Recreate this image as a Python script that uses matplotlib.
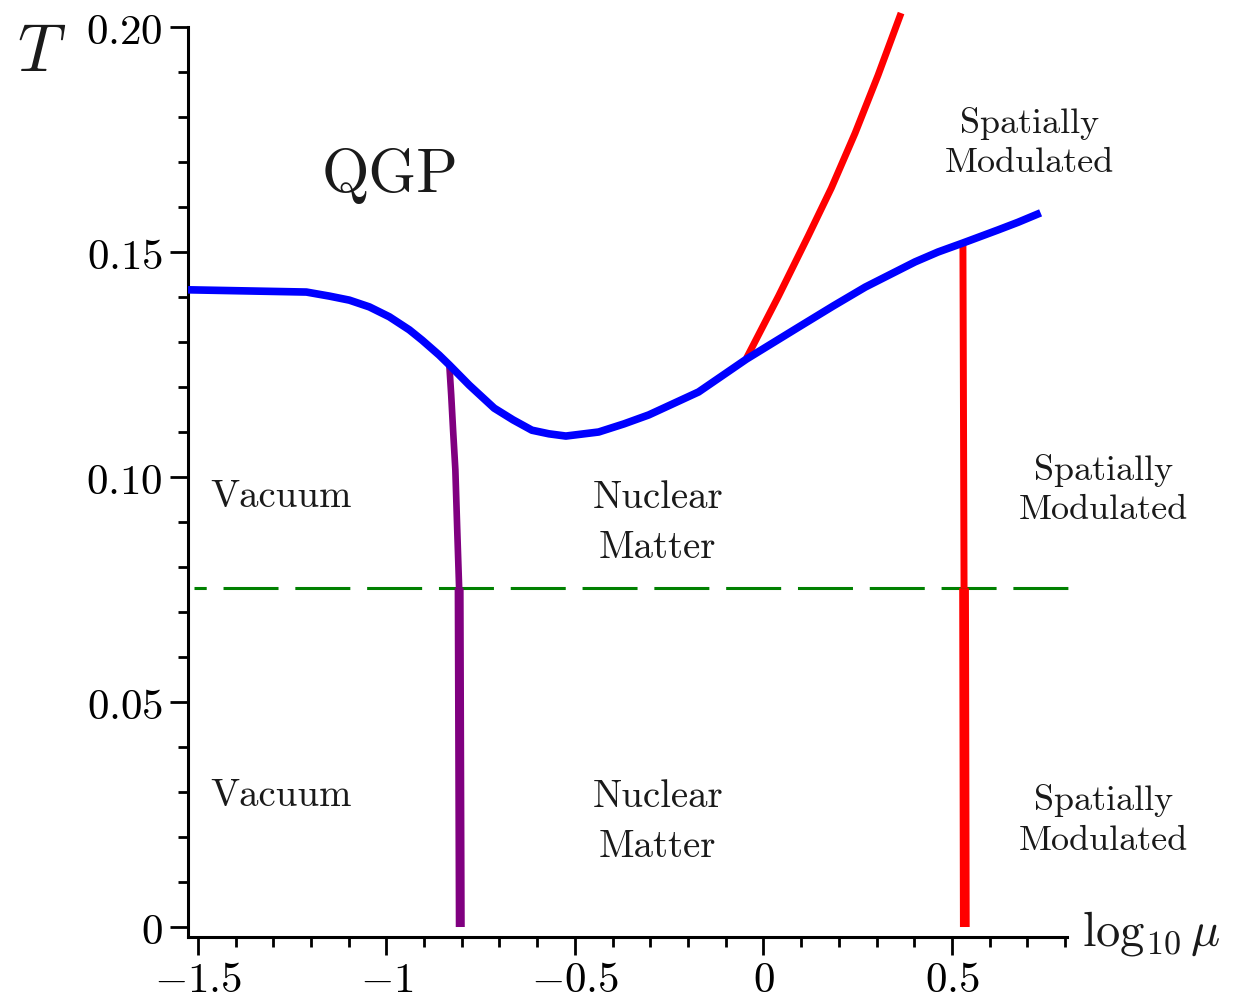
import numpy as np
import matplotlib.pyplot as plt
from matplotlib.ticker import MultipleLocator

plt.rc('mathtext', fontset='cm')
plt.rc('axes', unicode_minus=True)

# phase boundary (blue)
blue_x = [-1.526, -1.212, -1.151, -1.098, -1.045, -0.992, -0.939, -0.905, -0.860, -0.833,
          -0.780, -0.714, -0.664, -0.614, -0.569, -0.524, -0.437, -0.370, -0.304, -0.172,
          -0.045, 0.093, 0.185, 0.270, 0.402, 0.463, 0.529, 0.622, 0.675, 0.735]
blue_T = [0.1416, 0.1411, 0.1402, 0.1393, 0.1378, 0.1356, 0.1327, 0.1304, 0.1271, 0.1249,
          0.1204, 0.1153, 0.1127, 0.1104, 0.1096, 0.1091, 0.1100, 0.1118, 0.1138, 0.1189,
          0.1262, 0.1333, 0.1380, 0.1422, 0.1478, 0.1500, 0.1520, 0.1549, 0.1566, 0.1587]

# red branch going up
red_x = [-0.045, 0.040, 0.119, 0.180, 0.243, 0.304, 0.365]
red_T = [0.1264, 0.1402, 0.1536, 0.1642, 0.1764, 0.1893, 0.2031]

# red vertical line (upper part, lower part)
redv_x = [0.529, 0.532, 0.534]
redv_T = [0.1520, 0.0753, 0.0]

# purple line
purple_x = [-0.833, -0.828, -0.823, -0.817, -0.812, -0.807, -0.804]
purple_T = [0.1249, 0.1182, 0.1104, 0.1016, 0.0882, 0.0753, 0.0]

T_dash = 0.0753
dash_x = [-1.51, 0.82]

xticks = [-1.5, -1, -0.5, 0, 0.5]
xlabels = [r'$-1.5$', r'$-1$', r'$-0.5$', r'$0$', r'$0.5$']
yticks = [0, 0.05, 0.10, 0.15, 0.20]
ylabels = [r'$0$', r'$0.05$', r'$0.10$', r'$0.15$', r'$0.20$']

fig = plt.figure(figsize=(12.34, 10.07), dpi=100)
ax = fig.add_axes([188/1234, 70/1007, 879/1234, 910/1007])

ax.plot(dash_x, [T_dash, T_dash], color='#008000', lw=2.2,
        linestyle=(14, (18, 5.5)), clip_on=False, zorder=2)

# purple: thinner above the dashed line, thicker below
ax.plot(purple_x[:6], purple_T[:6], color='#800080', lw=4.8, solid_capstyle='butt',
        solid_joinstyle='round', zorder=3)
ax.plot(purple_x[5:], purple_T[5:], color='#800080', lw=6.5, solid_capstyle='butt', zorder=3)

ax.plot(redv_x[:2], redv_T[:2], color='#ff0000', lw=5, solid_capstyle='butt', zorder=3)
ax.plot(redv_x[1:], redv_T[1:], color='#ff0000', lw=7, solid_capstyle='butt', zorder=3)
ax.plot(red_x, red_T, color='#ff0000', lw=5, solid_capstyle='butt', solid_joinstyle='round',
        clip_on=False, zorder=3)

ax.plot(blue_x, blue_T, color='#0000ff', lw=5.5, solid_capstyle='butt',
        solid_joinstyle='round', zorder=4)

ax.set_xlim(-1.526, 0.805)
ax.set_ylim(-0.00222, 0.2)

ax.set_xticks(xticks)
ax.set_xticklabels(xlabels)
ax.set_yticks(yticks)
ax.set_yticklabels(ylabels)
ax.xaxis.set_minor_locator(MultipleLocator(0.1))
ax.yaxis.set_minor_locator(MultipleLocator(0.01))
ax.tick_params(which='major', direction='out', length=13, width=2, labelsize=31, pad=5)
ax.tick_params(which='minor', direction='out', length=7, width=2)
ax.tick_params(axis='x', which='major', pad=3)

for s in ['top', 'right']:
    ax.spines[s].set_visible(False)
for s in ['left', 'bottom']:
    ax.spines[s].set_linewidth(2.2)

# region labels
lab = dict(family='cmr10', ha='center', va='center', color='#1a1a1a')
ax.text(-0.989, 0.1669, 'QGP', fontsize=44, **lab)
ax.text(-1.28, 0.0955, 'Vacuum', fontsize=28, **lab)
ax.text(-1.28, 0.0291, 'Vacuum', fontsize=28, **lab)
ax.text(-0.28, 0.0898, 'Nuclear\nMatter', fontsize=28, linespacing=1.5, **lab)
ax.text(-0.28, 0.0233, 'Nuclear\nMatter', fontsize=28, linespacing=1.5, **lab)
ax.text(0.706, 0.1742, 'Spatially\nModulated', fontsize=26, linespacing=1.33, **lab)
ax.text(0.902, 0.0971, 'Spatially\nModulated', fontsize=26, linespacing=1.33, **lab)
ax.text(0.902, 0.0236, 'Spatially\nModulated', fontsize=26, linespacing=1.33, **lab)

# axis labels
fig.text(42/1234, 1 - 52/1007, r'$T$', fontsize=48, ha='center', va='center', color='#1a1a1a')
fig.text(1082/1234, 1 - 945/1007, r'$\log_{10}\mu$', fontsize=35, ha='left', va='baseline',
         color='#1a1a1a')

fig.savefig('out.png', dpi=100)
